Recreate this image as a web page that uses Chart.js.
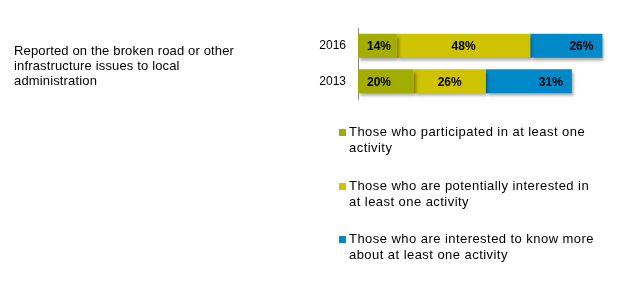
<!DOCTYPE html>
<html>
<head>
<meta charset="utf-8">
<script src="https://cdn.jsdelivr.net/npm/chart.js@4"></script>
<style>
  body { margin: 0; background: #fff; font-family: "Liberation Sans", Arial, sans-serif; }
  #wrap { position: relative; width: 617px; height: 284px; }
  #question { position: absolute; left: 14px; top: 43px; width: 250px; font-size: 13px; letter-spacing: 0.15px; line-height: 15px; color: #000; }
  #legend { position: absolute; left: 339px; top: 124px; font-size: 13px; letter-spacing: 0.45px; line-height: 16px; color: #000; }
  .item { position: relative; padding-left: 10px; height: 53.5px; white-space: nowrap; }
  .box { position: absolute; left: 0; top: 5px; width: 7px; height: 7px; }
</style>
</head>
<body>
<div id="wrap">
  <canvas id="chartCanvas" width="617" height="284"></canvas>
  <div id="question"></div>
  <div id="legend"></div>
</div>
<script>
const question = "Reported on the broken road or other infrastructure issues to local administration";
const years = ["2016", "2013"];
const participated = [14, 20];
const potentiallyInterested = [48, 26];
const wantToKnowMore = [26, 31];
const seriesNames = [
  ["Those who participated in at least one", "activity"],
  ["Those who are potentially interested in", "at least one activity"],
  ["Those who are interested to know more", "about at least one activity"]
];
const colors = ["#a2ad00", "#cdc300", "#0088c9"];
const labelAlign = ["start", "center", "end"];

document.getElementById("question").innerText = question;

const legend = document.getElementById("legend");
seriesNames.forEach((lines, i) => {
  const item = document.createElement("div");
  item.className = "item";
  item.innerHTML = '<span class="box" style="background:' + colors[i] + '"></span>' + lines.join("<br>");
  legend.appendChild(item);
});

const shadowPlugin = {
  id: "shadow",
  beforeDatasetsDraw(chart) {
    const ctx = chart.ctx;
    ctx.save();
    ctx.shadowColor = "rgba(0,0,0,0.35)";
    ctx.shadowOffsetX = 2;
    ctx.shadowOffsetY = 3;
    ctx.shadowBlur = 3;
  },
  afterDatasetsDraw(chart) {
    chart.ctx.restore();
  }
};

const valueLabels = {
  id: "valueLabels",
  afterDatasetsDraw(chart) {
    const ctx = chart.ctx;
    ctx.save();
    ctx.font = "bold 12px 'Liberation Sans', Arial, sans-serif";
    ctx.fillStyle = "#000";
    ctx.textBaseline = "middle";
    chart.data.datasets.forEach((ds, di) => {
      chart.getDatasetMeta(di).data.forEach((bar, i) => {
        const text = ds.data[i] + "%";
        const align = labelAlign[di];
        let x;
        if (align === "start") {
          ctx.textAlign = "left";
          x = bar.base + 9;
        } else if (align === "end") {
          ctx.textAlign = "right";
          x = bar.x - 9;
        } else {
          ctx.textAlign = "center";
          x = (bar.x + bar.base) / 2;
        }
        ctx.fillText(text, x, bar.y + 1);
      });
    });
    ctx.restore();
  }
};

new Chart(document.getElementById("chartCanvas").getContext("2d"), {
  type: "bar",
  data: {
    labels: years,
    datasets: [
      { label: seriesNames[0].join(" "), data: participated, backgroundColor: colors[0] },
      { label: seriesNames[1].join(" "), data: potentiallyInterested, backgroundColor: colors[1] },
      { label: seriesNames[2].join(" "), data: wantToKnowMore, backgroundColor: colors[2] }
    ]
  },
  options: {
    indexAxis: "y",
    responsive: false,
    animation: false,
    layout: { padding: { top: 28, bottom: 185, right: 9, left: 0 } },
    plugins: { legend: { display: false }, tooltip: { enabled: false } },
    datasets: { bar: { categoryPercentage: 1, barPercentage: 0.68 } },
    scales: {
      x: { display: false, stacked: true, min: 0, max: 90 },
      y: {
        stacked: true,
        grid: { display: false },
        border: { display: true, color: "#8c8c8c" },
        ticks: { color: "#000", padding: 4, font: { size: 12, family: "'Liberation Sans', Arial, sans-serif" } },
        afterFit(scale) { scale.width = 358; }
      }
    }
  },
  plugins: [shadowPlugin, valueLabels]
});
</script>
</body>
</html>
